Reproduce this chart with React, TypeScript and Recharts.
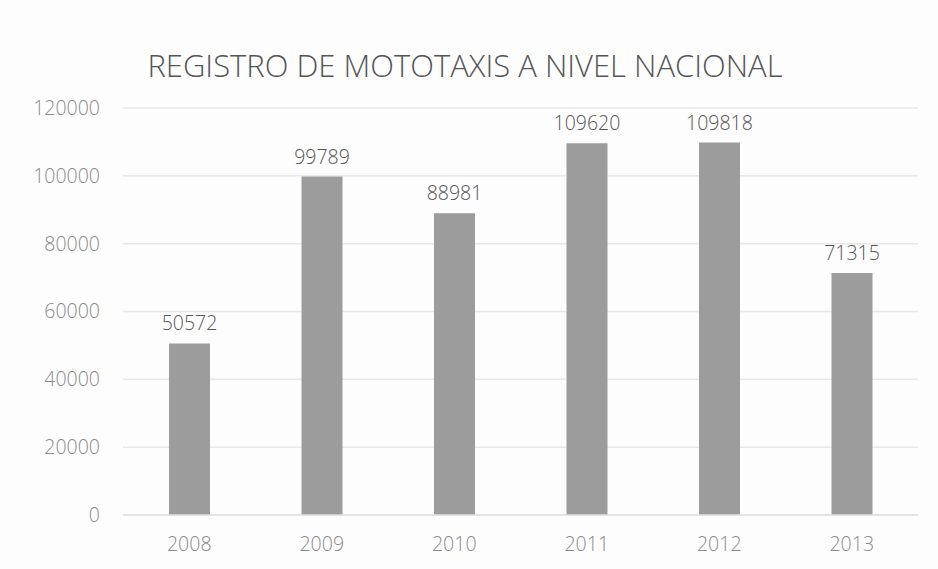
import React from "react";
import { BarChart, Bar, XAxis, YAxis, CartesianGrid, LabelList } from "recharts";

const years = ["2008", "2009", "2010", "2011", "2012", "2013"];
const registros = [50572, 99789, 88981, 109620, 109818, 71315];
const yTicks = [0, 20000, 40000, 60000, 80000, 100000, 120000];
const title = "REGISTRO DE MOTOTAXIS A NIVEL NACIONAL";

const data = years.map((y, i) => ({ year: y, value: registros[i] }));

const FONT = "'Open Sans', 'Noto Sans', sans-serif";

export default function App() {
  return (
    <div style={{ position: "absolute", left: 0, top: 0, width: 938, height: 569, background: "#fdfdfd", fontFamily: FONT }}>
      <div
        style={{
          position: "absolute",
          left: 0,
          width: 930,
          top: 44,
          textAlign: "center",
          fontSize: 31,
          lineHeight: "42px",
          fontWeight: 300,
          color: "#555",
        }}
      >
        {title}
      </div>
      <BarChart
        width={938}
        height={569}
        data={data}
        margin={{ top: 108, right: 20, bottom: 0, left: 0 }}
        barCategoryGap={0}
      >
        <CartesianGrid vertical={false} stroke="#e8e8e8" strokeWidth={1.5} />
        <XAxis
          dataKey="year"
          axisLine={{ stroke: "#e0e0e0", strokeWidth: 1.5 }}
          tickLine={false}
          tickMargin={16}
          height={54}
          tick={{ fill: "#8a8a8a", fontSize: 19.5, fontFamily: FONT, fontWeight: 300 }}
        />
        <YAxis
          width={123}
          domain={[0, 120000]}
          ticks={yTicks}
          axisLine={false}
          tickLine={false}
          tickMargin={17}
          tick={{ fill: "#8a8a8a", fontSize: 19.5, fontFamily: FONT, fontWeight: 300 }}
        />
        <Bar dataKey="value" fill="#9c9c9c" barSize={41} isAnimationActive={false}>
          <LabelList dataKey="value" position="top" offset={13} fill="#555" fontSize={19.5} fontFamily={FONT} fontWeight={300} />
        </Bar>
      </BarChart>
    </div>
  );
}
